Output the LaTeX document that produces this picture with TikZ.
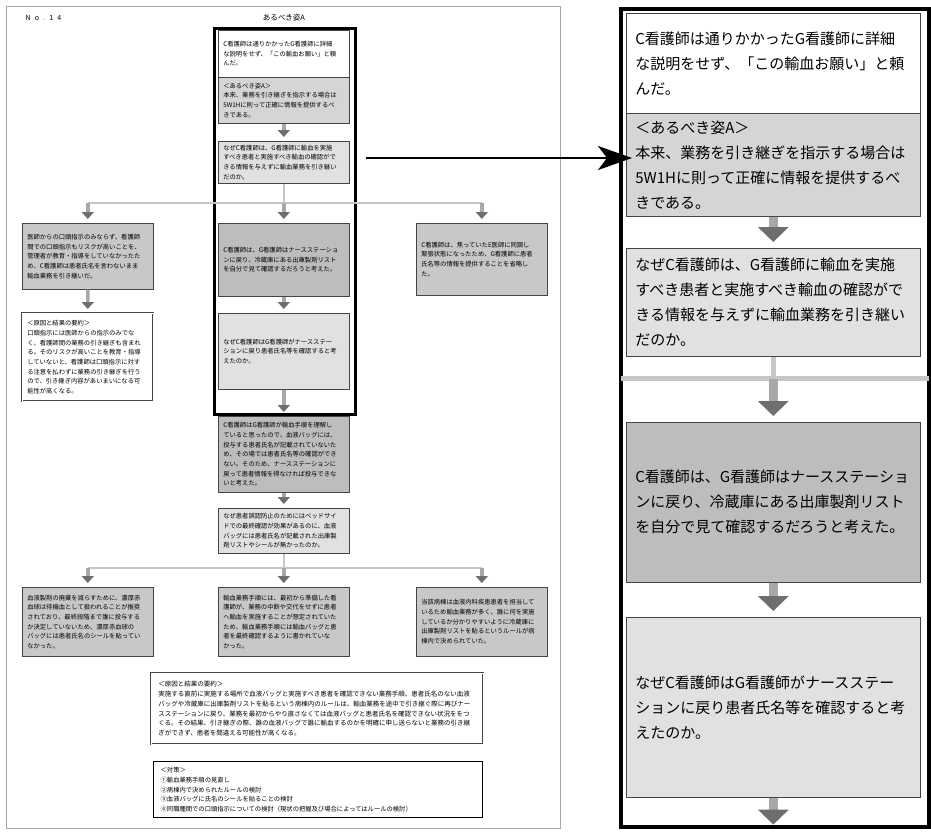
\documentclass[tikz,border=0pt]{standalone}
\usepackage{fontspec}
\setmainfont{Noto Sans CJK JP}
\usetikzlibrary{arrows.meta,calc}

\newcommand\smallsz{\fontsize{6.3pt}{9.7pt}\selectfont}
\newcommand\sumsz{\fontsize{6.5pt}{9.7pt}\selectfont}
\newcommand\bigsz{\fontsize{15pt}{25pt}\selectfont}

\definecolor{fillmid}{HTML}{C8C8C8}
\definecolor{filldark}{HTML}{BDBDBD}
\definecolor{filllight}{HTML}{E1E1E1}
\definecolor{fillhead}{HTML}{D5D5D5}
\definecolor{linkgray}{HTML}{C6C6C6}
\definecolor{shaftgray}{HTML}{A8A8A8}
\definecolor{tipgray}{HTML}{6E6E6E}
\definecolor{edge}{HTML}{444444}

\begin{document}
\begin{tikzpicture}[x=1pt,y=-1pt,
  box/.style={draw=edge, line width=0.6pt, anchor=north west, inner sep=0pt, align=left},
  sb/.style={box, font=\smallsz, minimum width=131pt, text width=121pt},
  bb/.style={box, font=\bigsz, minimum width=294pt, text width=276pt},
  dbl/.style={double=white, double distance=1.3pt, line width=0.5pt},
  link/.style={draw=linkgray, line width=2pt},
  blink/.style={draw=linkgray, line width=5pt},
  sarrow/.style={draw=shaftgray, line width=3.5pt, shorten >=4pt,
    -{Triangle[length=7pt,width=12pt,color=tipgray]}},
  barrow/.style={draw=shaftgray, line width=9pt, shorten >=6pt,
    -{Triangle[length=15pt,width=30pt,color=tipgray]}},
]
\useasboundingbox (0,0) rectangle (931,831);
\fill[white] (0,0) rectangle (931,831);

% ---------- overview sheet ----------
\node[draw=gray!70, line width=0.8pt, minimum width=554pt, minimum height=822pt,
      anchor=north west, inner sep=0pt] (panel) at (6,6) {};
\node[anchor=west, font=\fontsize{7pt}{8pt}\selectfont\addfontfeatures{LetterSpace=60}] (num) at (22,18) {No.14};
\node[font=\fontsize{7.5pt}{8pt}\selectfont] (ttl) at (284,18) {あるべき姿A};

% frame around the ideal-state column
\node[draw, line width=2.6pt, minimum width=141pt, minimum height=386pt,
      anchor=north west, inner sep=0pt] (fa) at (213,27) {};

\node[sb, fill=white, minimum height=47pt] (b1) at (218,30)
  {C看護師は通りかかったG看護師に詳細\\な説明をせず、「この輸血お願い」と頼\\んだ。};
\node[sb, fill=fillhead, minimum height=46pt] (b2) at (218,77)
  {＜あるべき姿A＞\\本来、業務を引き継ぎを指示する場合は\\5W1Hに則って正確に情報を提供するべ\\きである。};
\node[sb, fill=filllight, minimum height=42pt] (b3) at (218,141)
  {なぜC看護師は、G看護師に輸血を実施\\すべき患者と実施すべき輸血の確認がで\\きる情報を与えずに輸血業務を引き継い\\だのか。};
\node[sb, fill=filldark, minimum height=73pt] (b4) at (218,223)
  {C看護師は、G看護師はナースステーショ\\ンに戻り、冷蔵庫にある出庫製剤リスト\\を自分で見て確認するだろうと考えた。};
\node[sb, fill=filllight, minimum height=76pt] (b5) at (218,313)
  {なぜC看護師はG看護師がナースステー\\ションに戻り患者氏名等を確認すると考\\えたのか。};
\node[sb, fill=filldark, minimum height=76pt] (b6) at (218,416)
  {C看護師はG看護師が輸血手順を理解し\\ていると思ったので、血液バッグには、\\投与する患者氏名が記載されていないた\\め、その場では患者氏名等の確認ができ\\ない。そのため、ナースステーションに\\戻って患者情報を得なければ投与できな\\いと考えた。};
\node[sb, fill=filllight, minimum height=45pt] (b7) at (218,508)
  {なぜ患者誤認防止のためにはベッドサイ\\ドでの最終確認が効果があるのに、血液\\バッグには患者氏名が記載された出庫製\\剤リストやシールが無かったのか。};

\node[sb, fill=fillmid, minimum height=66pt] (l1) at (22,223)
  {医師からの口頭指示のみならず、看護師\\間での口頭指示もリスクが高いことを、\\管理者が教育・指導をしていなかったた\\め、C看護師は患者氏名を言わないまま\\輸血業務を引き継いだ。};
\node[sb, dbl, draw=edge, fill=white, minimum height=88pt] (l2) at (22,313)
  {＜原因と結果の要約＞\\口頭指示には医師からの指示のみでな\\く、看護師間の業務の引き継ぎも含まれ\\る。そのリスクが高いことを教育・指導\\していないと、看護師は口頭指示に対す\\る注意を払わずに業務の引き継ぎを行う\\ので、引き継ぎ内容があいまいになる可\\能性が高くなる。};
\node[sb, fill=fillmid, minimum height=72pt] (r1) at (416,223)
  {C看護師は、焦っていたE医師に同調し\\緊張状態になったため、G看護師に患者\\氏名等の情報を提供することを省略し\\た。};

\node[sb, fill=fillmid, minimum height=69pt] (q1) at (22,587)
  {血液製剤の廃棄を減らすために、濃厚赤\\血球は待機血として扱われることが推奨\\されており、最終段階まで誰に投与する\\か決定していないため、濃厚赤血球の\\バッグには患者氏名のシールを貼ってい\\なかった。};
\node[sb, fill=fillmid, minimum height=69pt] (q2) at (218,587)
  {輸血業務手順には、最初から準備した看\\護師が、業務の中断や交代をせずに患者\\へ輸血を実施することが想定されていた\\ため、輸血業務手順には輸血バッグと患\\者を最終確認するように書かれていな\\かった。};
\node[sb, fill=fillmid, minimum height=69pt] (q3) at (416,587)
  {当該病棟は血液内科疾患患者を担当して\\いるため輸血業務が多く、誰に何を実施\\しているか分かりやすいように冷蔵庫に\\出庫製剤リストを貼るというルールが病\\棟内で決められていた。};

\node[box, dbl, fill=white, font=\sumsz, minimum width=332pt, text width=318pt,
      minimum height=71pt] (sm) at (151,673)
  {＜原因と結果の要約＞\\実施する直前に実施する場所で血液バッグと実施すべき患者を確認できない業務手順、患者氏名のない血液\\バッグや冷蔵庫に出庫製剤リストを貼るという病棟内のルールは、輸血業務を途中で引き継ぐ際に再びナー\\スステーションに戻り、業務を最初からやり直さなくては血液バッグと患者氏名を確認できない状況ををつ\\くる。その結果、引き継ぎの際、誰の血液バッグで誰に輸血するのかを明確に申し送らないと業務の引き継\\ぎができず、患者を間違える可能性が高くなる。};
\node[box, draw=black, line width=1.3pt, fill=white, font=\fontsize{6.3pt}{9.6pt}\selectfont,
      minimum width=329pt, text width=315pt, minimum height=56pt] (cm) at (153,761)
  {＜対策＞\\①輸血業務手順の見直し\\②病棟内で決められたルールの検討\\③血液バッグに氏名のシールを貼ることの検討\\④同職種間での口頭指示についての検討（現状の把握及び場合によってはルールの検討）};

% connectors
\draw[sarrow] (b2.south) -- (b3.north);
\coordinate (j1) at ($(b3.south)+(0,19)$);
\draw[link] (b3.south) -- (j1);
\draw[link] (l1.north |- j1) -- (r1.north |- j1);
\draw[sarrow] (l1.north |- j1) -- (l1.north);
\draw[sarrow] (j1) -- (b4.north);
\draw[sarrow] (r1.north |- j1) -- (r1.north);
\draw[sarrow] (l1.south) -- (l2.north);
\draw[sarrow] (b4.south) -- (b5.north);
\draw[sarrow] (b5.south) -- (b6.north);
\draw[sarrow] (b6.south) -- (b7.north);
\coordinate (j2) at ($(b7.south)+(0,14)$);
\draw[link] (b7.south) -- (j2);
\draw[link] (q1.north |- j2) -- (q3.north |- j2);
\draw[sarrow] (q1.north |- j2) -- (q1.north);
\draw[sarrow] (j2) -- (q2.north);
\draw[sarrow] (q3.north |- j2) -- (q3.north);

% ---------- enlarged view ----------
\node[draw, line width=4pt, minimum width=308pt, minimum height=818pt,
      anchor=north west, inner sep=0pt] (rp) at (619,7) {};

\node[bb, fill=white, minimum height=100pt] (rb1) at (626,13)
  {C看護師は通りかかったG看護師に詳細\\な説明をせず、「この輸血お願い」と頼\\んだ。};
\node[bb, fill=fillhead, minimum height=103pt] (rb2) at (626,113)
  {＜あるべき姿A＞\\本来、業務を引き継ぎを指示する場合は\\5W1Hに則って正確に情報を提供するべ\\きである。};
\node[bb, fill=filllight, minimum height=108pt] (rb3) at (626,248)
  {なぜC看護師は、G看護師に輸血を実施\\すべき患者と実施すべき輸血の確認がで\\きる情報を与えずに輸血業務を引き継い\\だのか。};
\node[bb, fill=filldark, minimum height=160pt] (rb4) at (626,422)
  {C看護師は、G看護師はナースステーショ\\ンに戻り、冷蔵庫にある出庫製剤リスト\\を自分で見て確認するだろうと考えた。};
\node[bb, fill=filllight, minimum height=180pt] (rb5) at (626,617)
  {なぜC看護師はG看護師がナースステー\\ションに戻り患者氏名等を確認すると考\\えたのか。};

\draw[barrow] (rb2.south) -- (rb3.north);
\coordinate (rj) at ($(rb3.south)+(0,22)$);
\draw[blink] (rb3.south) -- (rj);
\draw[blink, shorten <=2pt, shorten >=2pt] (rp.west |- rj) -- (rp.east |- rj);
\draw[barrow] (rj) -- (rb4.north);
\draw[barrow] (rb4.south) -- (rb5.north);
\coordinate (rend) at ($(rb5.south)+(0,27)$);
\draw[barrow, shorten >=0pt] (rb5.south) -- (rend);

% pointer from the framed column to its enlargement
\coordinate (ya) at (0,158);
\draw[line width=2.5pt, shorten <=9pt, shorten >=-13pt,
      -{Stealth[length=34pt,width=24pt,inset=9pt]}] (fa.east |- ya) -- (rp.west |- ya);
\end{tikzpicture}
\end{document}
